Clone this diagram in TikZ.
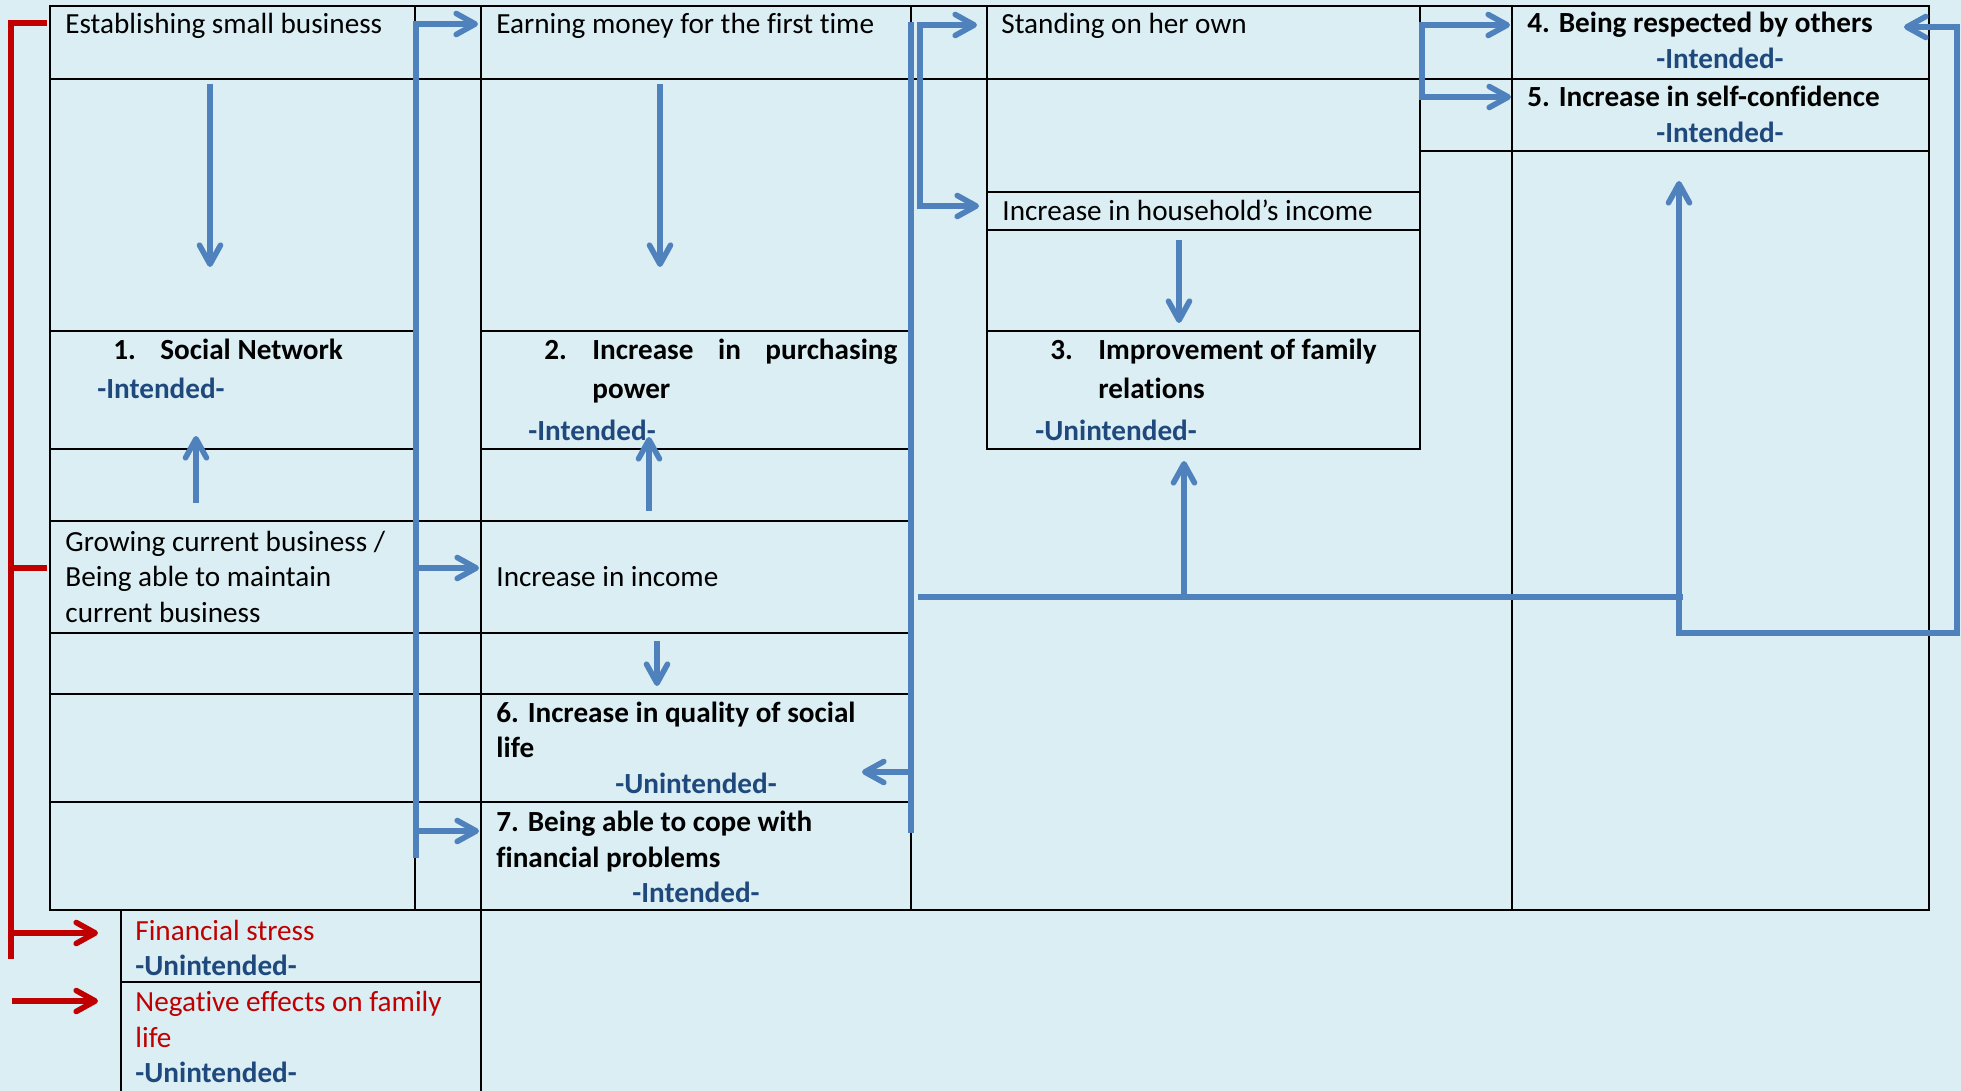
\documentclass[tikz,border=0pt]{standalone}
\usepackage{fontspec}
\setmainfont{Carlito}[Ligatures=NoCommon]
\usetikzlibrary{arrows.meta,fit}
\definecolor{bgblue}{HTML}{DAEEF3}
\definecolor{lineblue}{HTML}{4F81BD}
\definecolor{tagblue}{HTML}{1F497D}
\definecolor{darkred}{HTML}{C00000}
\begin{document}
\begin{tikzpicture}[x=0.5pt,y=-0.5pt,
  cellbox/.style={draw=black, line width=1.1pt, inner sep=0pt},
  txt/.style={anchor=base west, inner sep=0pt, font=\fontsize{14.6pt}{17.5pt}\selectfont},
  btxt/.style={txt, font=\fontsize{14.6pt}{17.5pt}\selectfont\bfseries},
  tag/.style={btxt, text=tagblue},
  ctag/.style={tag, anchor=base},
  rtxt/.style={txt, text=darkred},
  barb/.tip={Straight Barb[length=9.5pt,width=10.5pt,round]},
  flow/.style={draw=lineblue, line width=2.8pt},
  flowarr/.style={flow, -barb},
  flowboth/.style={flow, barb-barb},
  neg/.style={draw=darkred, line width=2.8pt},
  negarr/.style={neg, -barb},
]
\useasboundingbox (0,0) rectangle (1961,1091);
\clip (0,0) rectangle (1961,1091);
\fill[bgblue] (0,0) rectangle (1961,1091);

% ---- table cells ----
\foreach \i/\ya/\yb in {1/6/79,2/79/331,3/331/449,4/449/521,5/521/633,6/633/694,7/694/802,8/802/910}{
  \node[cellbox, fit={(50,\ya) (415,\yb)}] (A\i) {};
  \node[cellbox, fit={(481,\ya) (911,\yb)}] (B\i) {};
}
\foreach \i/\ya/\yb in {1/6/79,2/79/521,3/521/633,4/633/694,5/694/802,6/802/910}{
  \node[cellbox, fit={(415,\ya) (481,\yb)}] (N\i) {};
}
\node[cellbox, fit={(911,6) (987,79)}] (Ctop) {};
\node[cellbox, fit={(911,79) (1512,910)}] (Cbig) {};
\foreach \i/\ya/\yb in {1/6/79,2/79/192,3/192/230,4/230/331,5/331/449}{
  \node[cellbox, fill=bgblue, fit={(987,\ya) (1420,\yb)}] (Ci\i) {};
}
\node[cellbox, fit={(1420,6) (1512,79)}] (R1) {};
\node[cellbox, fit={(1420,79) (1512,151)}] (R2) {};
\node[cellbox, fit={(1512,6) (1929,79)}] (D1) {};
\node[cellbox, fit={(1512,79) (1929,151)}] (D2) {};
\node[cellbox, fit={(1512,151) (1929,910)}] (D3) {};
\node[cellbox, fit={(121,910) (481,982)}] (F1) {};
\node[cellbox, fit={(121,982) (481,1120)}] (F2) {};

% ---- texts ----
\node[txt] (t1) at (65,34) {Establishing small business};
\node[txt] (t2) at (496,34) {Earning money for the first time};
\node[txt] (t3) at (1001,34) {Standing on her own};
\node[btxt] (t4) at (1527,33) {4. Being respected by others};
\node[ctag] (t4tag) at (1720,69) {-Intended-};
\node[btxt] (t5) at (1527,107) {5. Increase in self-confidence};
\node[ctag] (t5tag) at (1720,143) {-Intended-};
\node[txt] (thh) at (1002,221) {Increase in household’s income};

\node[btxt] (n1num) at (113,359) {1.};
\node[btxt] (n1) at (160,359) {Social Network};
\node[tag] (n1tag) at (97,399) {-Intended-};

\node[btxt] (n2num) at (544,359) {2.};
\node[btxt] (n2a) at (592,359) {\hbox to 152.5pt{Increase\hfill in\hfill purchasing}};
\node[btxt] (n2b) at (592,399) {power};
\node[tag] (n2tag) at (528,440) {-Intended-};

\node[btxt] (n3num) at (1050,359) {3.};
\node[btxt] (n3a) at (1098,359) {Improvement of family};
\node[btxt] (n3b) at (1098,399) {relations};
\node[tag] (n3tag) at (1035,440) {-Unintended-};

\node[txt] (g1) at (65,551) {Growing current business /};
\node[txt] (g2) at (65,586) {Being able to maintain};
\node[txt] (g3) at (65,622) {current business};
\node[txt] (inc) at (496,586) {Increase in income};

\node[btxt] (s1) at (496,722) {6. Increase in quality of social};
\node[btxt] (s2) at (496,757) {life};
\node[ctag] (s6tag) at (696,793) {-Unintended-};

\node[btxt] (c1) at (496,831) {7. Being able to cope with};
\node[btxt] (c2) at (496,867) {financial problems};
\node[ctag] (c7tag) at (696,902) {-Intended-};

\node[rtxt] (fs) at (135,940) {Financial stress};
\node[tag] (fstag) at (135,975) {-Unintended-};
\node[rtxt] (ne1) at (135,1011) {Negative effects on family};
\node[rtxt] (ne2) at (135,1047) {life};
\node[tag] (netag) at (135,1082) {-Unintended-};

% ---- connector points ----
\coordinate (aDs) at (210,84);   \coordinate (aDe) at (210,267);
\coordinate (aUs) at (196,503);  \coordinate (aUe) at (196,436);
\coordinate (bDs) at (660,84);   \coordinate (bDe) at (660,267);
\coordinate (bUs) at (649,511);  \coordinate (bUe) at (649,437);
\coordinate (bSs) at (657,641);  \coordinate (bSe) at (657,686);
\coordinate (cDs) at (1179,240); \coordinate (cDe) at (1179,323);

\coordinate (sp1bot) at (416,858); \coordinate (sp1top) at (416,24);
\coordinate (toEarn) at (478,24);
\coordinate (sp1m) at (416,568);  \coordinate (toInc) at (479,568);
\coordinate (sp1l) at (416,831);  \coordinate (toCope) at (479,831);

\coordinate (sp2top) at (911,22); \coordinate (sp2bot) at (911,833);
\coordinate (sp2s) at (911,772);  \coordinate (toSocial) at (862,772);
\coordinate (toStand) at (977,25); \coordinate (brA) at (920,25);
\coordinate (brB) at (920,206);    \coordinate (toHH) at (979,206);
\coordinate (hzS) at (918,597);    \coordinate (hzE) at (1683,597);
\coordinate (up3s) at (1184,597);  \coordinate (up3e) at (1184,461);
\coordinate (to5) at (1679,181);   \coordinate (lpA) at (1679,633);
\coordinate (lpB) at (1957,633);   \coordinate (lpC) at (1957,27);
\coordinate (to4b) at (1904,27);
\coordinate (to4) at (1510,25);    \coordinate (brC) at (1422,25);
\coordinate (brD) at (1422,97);    \coordinate (to5b) at (1511,97);

\coordinate (rTop) at (47,23);   \coordinate (rCorner) at (11,23);
\coordinate (rBot) at (11,959);  \coordinate (rMid) at (11,568);
\coordinate (rMidE) at (47,568); \coordinate (rFs) at (11,933);
\coordinate (toFs) at (98,933);  \coordinate (rNe) at (12,1001);
\coordinate (toNe) at (98,1001);

% ---- blue connectors ----
\draw[flowarr] (aDs) -- (aDe);
\draw[flowarr] (aUs) -- (aUe);
\draw[flowarr] (bDs) -- (bDe);
\draw[flowarr] (bUs) -- (bUe);
\draw[flowarr] (bSs) -- (bSe);
\draw[flowarr] (cDs) -- (cDe);

\draw[flowarr] (sp1bot) -- (sp1top) -- (toEarn);
\draw[flowarr] (sp1m) -- (toInc);
\draw[flowarr] (sp1l) -- (toCope);

\draw[flow] (sp2top) -- (sp2bot);
\draw[flowarr] (sp2s) -- (toSocial);
\draw[flowboth] (toStand) -- (brA) -- (brB) -- (toHH);
\draw[flow] (hzS) -- (hzE);
\draw[flowarr] (up3s) -- (up3e);
\draw[flowboth] (to5) -- (lpA) -- (lpB) -- (lpC) -- (to4b);
\draw[flowboth] (to4) -- (brC) -- (brD) -- (to5b);

% ---- red connectors ----
\draw[neg] (rTop) -- (rCorner) -- (rBot);
\draw[neg] (rMid) -- (rMidE);
\draw[negarr] (rFs) -- (toFs);
\draw[negarr] (rNe) -- (toNe);
\end{tikzpicture}
\end{document}
